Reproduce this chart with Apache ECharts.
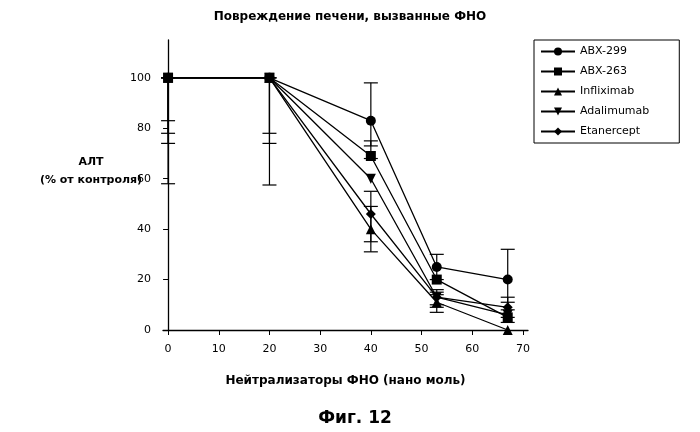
<!DOCTYPE html>
<html><head><meta charset="utf-8">
<script src="https://cdn.jsdelivr.net/npm/echarts@6/dist/echarts.min.js"></script>
<style>body{margin:0;background:#fff}#c{width:700px;height:432px}</style>
</head><body><div id="c"></div>
<script>
var doses = [0, 20, 40, 53, 67];
var names = ['ABX-299', 'ABX-263', 'Infliximab', 'Adalimumab', 'Etanercept'];
var symbols = ['circle', 'rect', 'triangle', 'path://M0,0 L10,0 L5,10 Z', 'diamond'];
var xTicks = [0, 10, 20, 30, 40, 50, 60, 70];
var abx299 = [100, 100, 83, 25, 20];
var abx263 = [100, 100, 69, 20, 5];
var inflix = [100, 100, 40, 11, 0];
var adalim = [100, 100, 60, 13, 6];
var etaner = [100, 100, 46, 13, 9];
// error bars: [x, low, high]
var errBars = [
  [0, 58, 100], [0, 74, 100], [0, 78, 100], [0, 83, 100],
  [20, 57.5, 100], [20, 74, 100], [20, 78, 100],
  [40, 68, 98], [40, 31, 49], [40, 35, 55], [40, 73, 75],
  [53, 20, 30], [53, 7, 16], [53, 9, 15], [53, 10, 14],
  [67, 8, 32], [67, 3, 13], [67, 5, 11]
];
var allVals = [abx299, abx263, inflix, adalim, etaner];

var chart = echarts.init(document.getElementById('c'));
var series = allVals.map(function (v, i) {
  return {
    name: names[i], type: 'line', data: doses.map(function (d, j) { return [d, v[j]]; }),
    symbol: symbols[i], symbolSize: 10, showSymbol: true,
    itemStyle: { color: '#000' }, lineStyle: { color: '#000', width: 1.3 }, z: 3
  };
});
series.push({
  type: 'custom', silent: true, data: errBars, z: 2,
  renderItem: function (params, api) {
    var top = api.coord([api.value(0), api.value(2)]);
    var bot = api.coord([api.value(0), api.value(1)]);
    var w = 7;
    return { type: 'group', children: [
      { type: 'line', shape: { x1: top[0], y1: top[1], x2: bot[0], y2: bot[1] }, style: { stroke: '#000', lineWidth: 1.2 } },
      { type: 'line', shape: { x1: top[0] - w, y1: top[1], x2: top[0] + w, y2: top[1] }, style: { stroke: '#000', lineWidth: 1.2 } },
      { type: 'line', shape: { x1: bot[0] - w, y1: bot[1], x2: bot[0] + w, y2: bot[1] }, style: { stroke: '#000', lineWidth: 1.2 } }
    ] };
  }
});

chart.setOption({
  animation: false,
  textStyle: { fontFamily: 'DejaVu Sans', color: '#000' },
  title: [
    { text: 'Повреждение печени, вызванные ФНО', left: 345, top: 6, textAlign: 'center',
      textStyle: { fontSize: 12, fontWeight: 'bold', color: '#000' } },
    { text: 'Фиг. 12', left: 350, top: 405, textAlign: 'center',
      textStyle: { fontSize: 17, fontWeight: 'bold', color: '#000' } },
    { text: 'АЛТ\n(% от контроля)', left: 86, top: 148, textAlign: 'center',
      textStyle: { fontSize: 11, fontWeight: 'bold', color: '#000', lineHeight: 18 } }
  ],
  legend: {
    orient: 'vertical', left: 534, top: 40, itemGap: 9, itemWidth: 34, itemHeight: 10,
    data: names, borderColor: '#000', borderWidth: 1, padding: [6, 30, 6, 6],
    textStyle: { fontSize: 11, color: '#000' }
  },
  grid: { left: 163, right: 172, top: 40, bottom: 102 },
  xAxis: {
    type: 'value', min: -1, max: 71,
    name: 'Нейтрализаторы ФНО (нано моль)', nameLocation: 'middle', nameGap: 45,
    nameTextStyle: { fontSize: 12, fontWeight: 'bold' },
    axisLine: { onZero: false, lineStyle: { color: '#000', width: 1.3 } },
    axisTick: { length: 5, customValues: xTicks, lineStyle: { color: '#000' } },
    axisLabel: { color: '#000', fontSize: 11, margin: 14, customValues: xTicks },
    splitLine: { show: false }
  },
  yAxis: {
    type: 'value', min: 0, max: 115, interval: 20,
    axisLine: { show: true, lineStyle: { color: '#000', width: 1.3 } },
    axisTick: { show: true, length: 5, lineStyle: { color: '#000' } },
    axisLabel: { color: '#000', fontSize: 11, margin: 12, showMaxLabel: false },
    splitLine: { show: false }
  },
  series: series
});
</script></body></html>
